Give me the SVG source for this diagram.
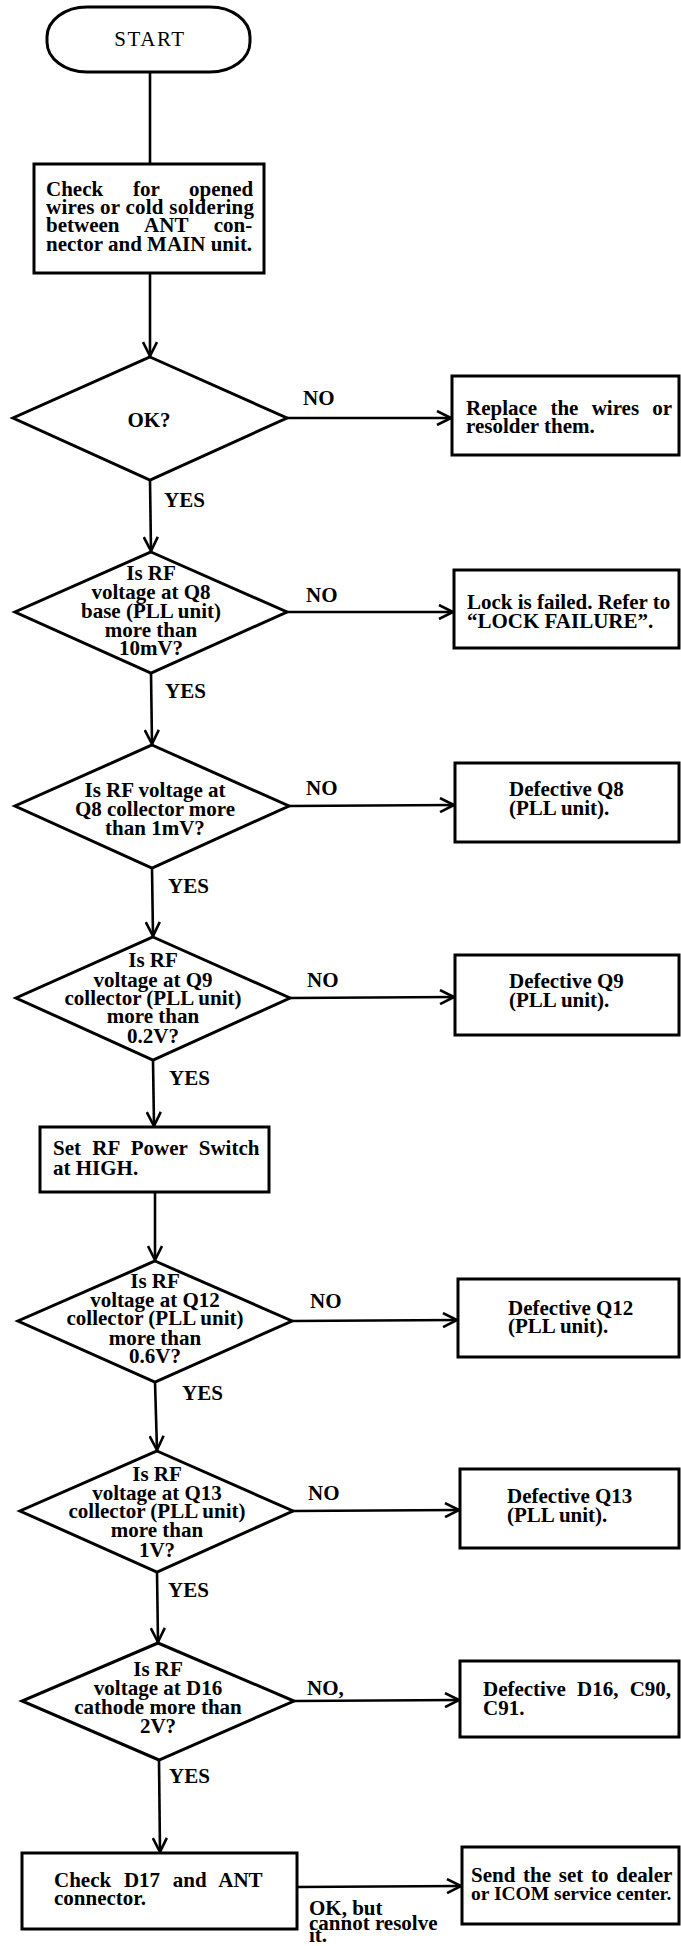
<svg xmlns="http://www.w3.org/2000/svg" width="681" height="1946" viewBox="0 0 681 1946">
<style>
.s{fill:#fff;stroke:#000;stroke-width:3;stroke-linejoin:miter}
.c{fill:none;stroke:#000;stroke-width:2.6}
.a{marker-end:url(#ah)}
text{font-family:"Liberation Serif","Times New Roman",serif;font-weight:bold;font-size:21px;fill:#000}
.m{text-anchor:middle}
.st{font-weight:normal;letter-spacing:1.6px}
</style>
<defs>
<marker id="ah" viewBox="0 0 16 16" refX="15" refY="8" markerWidth="16" markerHeight="16" markerUnits="userSpaceOnUse" orient="auto">
<path d="M1,1 L15,8 L1,15" fill="none" stroke="#000" stroke-width="2.6"/>
</marker>
</defs>
<rect width="681" height="1946" fill="#fff"/>
<g id="connectors">
<line class="c" x1="150" y1="72" x2="150" y2="163"/>
<line class="c a" x1="150" y1="274" x2="150" y2="356"/>
<line class="c a" x1="286" y1="418" x2="451" y2="418"/>
<line class="c a" x1="150" y1="480" x2="151" y2="551"/>
<line class="c a" x1="287" y1="612" x2="453" y2="612"/>
<line class="c a" x1="151" y1="673" x2="152" y2="744"/>
<line class="c a" x1="289" y1="806" x2="454" y2="805"/>
<line class="c a" x1="152" y1="868" x2="153" y2="936"/>
<line class="c a" x1="290" y1="998" x2="454" y2="997"/>
<line class="c a" x1="153" y1="1060" x2="154" y2="1126"/>
<line class="c a" x1="155" y1="1192" x2="155" y2="1260"/>
<line class="c a" x1="292" y1="1321" x2="457" y2="1320"/>
<line class="c a" x1="155" y1="1382" x2="157" y2="1450"/>
<line class="c a" x1="293" y1="1511" x2="459" y2="1510"/>
<line class="c a" x1="157" y1="1572" x2="158" y2="1642"/>
<line class="c a" x1="294" y1="1701" x2="459" y2="1700"/>
<line class="c a" x1="159" y1="1760" x2="160" y2="1852"/>
<line class="c a" x1="297" y1="1887" x2="461" y2="1886"/>
<text x="303" y="405">NO</text>
<text x="164" y="507">YES</text>
<text x="306" y="602">NO</text>
<text x="165" y="698">YES</text>
<text x="306" y="795">NO</text>
<text x="168" y="893">YES</text>
<text x="307" y="987">NO</text>
<text x="169" y="1085">YES</text>
<text x="310" y="1308">NO</text>
<text x="182" y="1400">YES</text>
<text x="308" y="1500">NO</text>
<text x="168" y="1597">YES</text>
<text x="307" y="1695">NO,</text>
<text x="169" y="1783">YES</text>
<text x="309" y="1915"><tspan x="309" y="1915">OK, but</tspan><tspan x="309" y="1930">cannot resolve</tspan><tspan x="309" y="1942">it.</tspan></text>
</g>
<g id="start">
<rect class="s" x="47" y="7" width="203" height="65" rx="40" ry="30"/>
<text class="m st" x="150" y="46">START</text>
</g>
<g id="check-wires">
<rect class="s" x="34" y="164" width="230" height="109"/>
<text><tspan x="46" y="196" word-spacing="24.5">Check for opened</tspan><tspan x="46" y="214" textLength="208" lengthAdjust="spacing">wires or cold soldering</tspan><tspan x="46" y="232" word-spacing="20.5">between ANT con-</tspan><tspan x="46" y="251">nector and MAIN unit.</tspan></text>
</g>
<g id="ok">
<polygon class="s" points="150,357 287,418 150,480 13,418"/>
<text class="m" x="149" y="427">OK?</text>
</g>
<g id="replace">
<rect class="s" x="452" y="376" width="227" height="79"/>
<text word-spacing="8"><tspan x="466" y="415">Replace the wires or</tspan><tspan x="466" y="433" word-spacing="0">resolder them.</tspan></text>
</g>
<g id="q8-base">
<polygon class="s" points="151,552 287,612 151,673 15,612"/>
<text class="m"><tspan x="151" y="580">Is RF</tspan><tspan x="151" y="599">voltage at Q8</tspan><tspan x="151" y="618">base (PLL unit)</tspan><tspan x="151" y="637">more than</tspan><tspan x="151" y="655">10mV?</tspan></text>
</g>
<g id="lock">
<rect class="s" x="454" y="570" width="225" height="78"/>
<text><tspan x="467" y="609">Lock is failed. Refer to</tspan><tspan x="467" y="628">“LOCK FAILURE”.</tspan></text>
</g>
<g id="q8-collector">
<polygon class="s" points="152,745 289,806 152,868 15,806"/>
<text class="m"><tspan x="155" y="797">Is RF voltage at</tspan><tspan x="155" y="816">Q8 collector more</tspan><tspan x="155" y="835">than 1mV?</tspan></text>
</g>
<g id="def-q8">
<rect class="s" x="455" y="763" width="224" height="79"/>
<text><tspan x="509" y="796">Defective Q8</tspan><tspan x="509" y="815">(PLL unit).</tspan></text>
</g>
<g id="q9">
<polygon class="s" points="153,937 290,998 153,1060 16,998"/>
<text class="m"><tspan x="153" y="967">Is RF</tspan><tspan x="153" y="987">voltage at Q9</tspan><tspan x="153" y="1005">collector (PLL unit)</tspan><tspan x="153" y="1023">more than</tspan><tspan x="153" y="1043">0.2V?</tspan></text>
</g>
<g id="def-q9">
<rect class="s" x="455" y="955" width="224" height="80"/>
<text><tspan x="509" y="988">Defective Q9</tspan><tspan x="509" y="1007">(PLL unit).</tspan></text>
</g>
<g id="set-rf">
<rect class="s" x="40" y="1127" width="229" height="65"/>
<text word-spacing="6"><tspan x="53" y="1155">Set RF Power Switch</tspan><tspan x="53" y="1175" word-spacing="0">at HIGH.</tspan></text>
</g>
<g id="q12">
<polygon class="s" points="155,1261 292,1321 155,1382 18,1321"/>
<text class="m"><tspan x="155" y="1288">Is RF</tspan><tspan x="155" y="1307">voltage at Q12</tspan><tspan x="155" y="1325">collector (PLL unit)</tspan><tspan x="155" y="1345">more than</tspan><tspan x="155" y="1363">0.6V?</tspan></text>
</g>
<g id="def-q12">
<rect class="s" x="458" y="1279" width="221" height="78"/>
<text><tspan x="508" y="1315">Defective Q12</tspan><tspan x="508" y="1333">(PLL unit).</tspan></text>
</g>
<g id="q13">
<polygon class="s" points="157,1451 293,1511 157,1572 20,1511"/>
<text class="m"><tspan x="157" y="1481">Is RF</tspan><tspan x="157" y="1500">voltage at Q13</tspan><tspan x="157" y="1518">collector (PLL unit)</tspan><tspan x="157" y="1537">more than</tspan><tspan x="157" y="1557">1V?</tspan></text>
</g>
<g id="def-q13">
<rect class="s" x="460" y="1469" width="219" height="79"/>
<text><tspan x="507" y="1503">Defective Q13</tspan><tspan x="507" y="1522">(PLL unit).</tspan></text>
</g>
<g id="d16">
<polygon class="s" points="158,1643 294,1701 159,1760 22,1701"/>
<text class="m"><tspan x="158" y="1676">Is RF</tspan><tspan x="158" y="1695">voltage at D16</tspan><tspan x="158" y="1714">cathode more than</tspan><tspan x="158" y="1733">2V?</tspan></text>
</g>
<g id="def-d16">
<rect class="s" x="460" y="1661" width="219" height="76"/>
<text word-spacing="6"><tspan x="483" y="1696">Defective D16, C90,</tspan><tspan x="483" y="1715">C91.</tspan></text>
</g>
<g id="check-d17">
<rect class="s" x="22" y="1853" width="275" height="76"/>
<text word-spacing="7.5"><tspan x="54" y="1887">Check D17 and ANT</tspan><tspan x="54" y="1905" word-spacing="0">connector.</tspan></text>
</g>
<g id="send">
<rect class="s" x="462" y="1847" width="217" height="77"/>
<text><tspan x="471" y="1882" word-spacing="2.5">Send the set to dealer</tspan><tspan x="471" y="1900" font-size="19.5">or ICOM service center.</tspan></text>
</g>
</svg>
